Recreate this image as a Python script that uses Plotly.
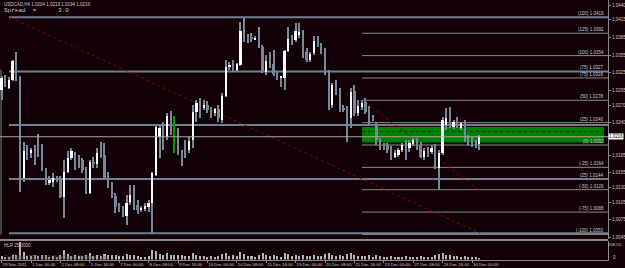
import plotly.graph_objects as go

# ---------------- data ----------------
bar_idx = list(range(131))
opens = [1.0296,1.0316,1.0299,1.0313,1.0345,1.0318,1.0146,1.0194,1.0188,1.0194,
         1.0190,1.0188,1.0160,1.0137,1.0139,1.0148,1.0146,1.0114,1.0156,1.0180,
         1.0185,1.0177,1.0177,1.0160,1.0120,1.0173,1.0170,1.0190,1.0185,1.0146,
         1.0134,1.0115,1.0098,1.0095,1.0082,1.0105,1.0119,1.0100,1.0092,1.0093,
         1.0097,1.0103,1.0151,1.0216,1.0231,1.0216,1.0250,1.0226,1.0226,1.0187,
         1.0202,1.0194,1.0211,1.0258,1.0272,1.0265,1.0270,1.0262,1.0256,1.0263,
         1.0245,1.0285,1.0335,1.0340,1.0330,1.0338,1.0398,1.0384,1.0386,1.0382,
         1.0401,1.0369,1.0326,1.0341,1.0340,1.0321,1.0316,1.0316,1.0362,1.0381,
         1.0381,1.0389,1.0391,1.0360,1.0347,1.0358,1.0381,1.0372,1.0360,1.0324,
         1.0270,1.0304,1.0292,1.0265,1.0262,1.0248,1.0294,1.0256,1.0267,1.0275,
         1.0262,1.0248,1.0236,1.0207,1.0202,1.0202,1.0197,1.0182,1.0185,1.0194,
         1.0202,1.0197,1.0204,1.0207,1.0202,1.0182,1.0194,1.0190,1.0197,1.0163,
         1.0188,1.0236,1.0248,1.0233,1.0245,1.0231,1.0239,1.0214,1.0211,1.0207,
         1.0204]
highs = [1.0319,1.0321,1.0318,1.0347,1.0360,1.0319,1.0207,1.0202,1.0197,1.0202,
         1.0221,1.0204,1.0163,1.0149,1.0154,1.0149,1.0149,1.0177,1.0192,1.0197,
         1.0190,1.0185,1.0180,1.0165,1.0177,1.0182,1.0197,1.0207,1.0205,1.0156,
         1.0139,1.0120,1.0103,1.0098,1.0117,1.0134,1.0134,1.0109,1.0098,1.0103,
         1.0109,1.0156,1.0236,1.0236,1.0241,1.0256,1.0260,1.0251,1.0231,1.0194,
         1.0211,1.0216,1.0270,1.0279,1.0282,1.0279,1.0277,1.0267,1.0265,1.0270,
         1.0290,1.0347,1.0343,1.0347,1.0341,1.0411,1.0418,1.0391,1.0392,1.0387,
         1.0403,1.0372,1.0355,1.0360,1.0364,1.0326,1.0319,1.0364,1.0403,1.0389,
         1.0409,1.0409,1.0398,1.0367,1.0360,1.0387,1.0387,1.0375,1.0367,1.0330,
         1.0307,1.0313,1.0299,1.0270,1.0268,1.0299,1.0304,1.0279,1.0279,1.0282,
         1.0268,1.0253,1.0241,1.0214,1.0205,1.0205,1.0200,1.0194,1.0197,1.0205,
         1.0211,1.0211,1.0214,1.0214,1.0207,1.0197,1.0199,1.0202,1.0204,1.0194,
         1.0250,1.0265,1.0267,1.0245,1.0250,1.0241,1.0245,1.0219,1.0216,1.0211,
         1.0219]
lows = [1.0279,1.0301,1.0297,1.0311,1.0311,1.0122,1.0139,1.0177,1.0180,1.0168,
        1.0182,1.0158,1.0134,1.0134,1.0131,1.0139,1.0112,1.0078,1.0154,1.0177,
        1.0160,1.0163,1.0154,1.0119,1.0119,1.0163,1.0163,1.0180,1.0143,1.0129,
        1.0112,1.0086,1.0088,1.0080,1.0066,1.0100,1.0092,1.0085,1.0088,1.0090,
        1.0088,1.0052,1.0149,1.0180,1.0194,1.0211,1.0219,1.0188,1.0185,1.0166,
        1.0180,1.0188,1.0197,1.0241,1.0248,1.0262,1.0256,1.0248,1.0251,1.0241,
        1.0239,1.0284,1.0330,1.0326,1.0326,1.0336,1.0377,1.0375,1.0377,1.0381,
        1.0367,1.0324,1.0321,1.0333,1.0319,1.0313,1.0301,1.0296,1.0360,1.0372,
        1.0377,1.0384,1.0350,1.0343,1.0343,1.0355,1.0369,1.0357,1.0321,1.0262,
        1.0265,1.0287,1.0258,1.0258,1.0207,1.0231,1.0251,1.0251,1.0262,1.0255,
        1.0236,1.0243,1.0202,1.0194,1.0194,1.0188,1.0177,1.0180,1.0182,1.0190,
        1.0177,1.0190,1.0200,1.0194,1.0180,1.0177,1.0182,1.0187,1.0161,1.0126,
        1.0185,1.0228,1.0231,1.0229,1.0231,1.0228,1.0207,1.0200,1.0199,1.0197,
        1.0194]
closes = [1.0316,1.0304,1.0313,1.0345,1.0313,1.0143,1.0192,1.0188,1.0194,1.0171,
          1.0185,1.0160,1.0137,1.0143,1.0146,1.0144,1.0114,1.0156,1.0180,1.0192,
          1.0171,1.0173,1.0160,1.0120,1.0173,1.0170,1.0188,1.0183,1.0146,1.0131,
          1.0114,1.0097,1.0093,1.0082,1.0103,1.0117,1.0100,1.0092,1.0095,1.0098,
          1.0103,1.0154,1.0233,1.0231,1.0214,1.0251,1.0224,1.0226,1.0192,1.0170,
          1.0194,1.0209,1.0258,1.0273,1.0265,1.0270,1.0262,1.0256,1.0263,1.0248,
          1.0285,1.0335,1.0338,1.0330,1.0340,1.0396,1.0381,1.0379,1.0382,1.0384,
          1.0369,1.0326,1.0345,1.0336,1.0323,1.0316,1.0318,1.0362,1.0382,1.0375,
          1.0396,1.0394,1.0353,1.0347,1.0357,1.0379,1.0372,1.0360,1.0324,1.0273,
          1.0304,1.0292,1.0262,1.0262,1.0250,1.0292,1.0256,1.0268,1.0273,1.0258,
          1.0239,1.0245,1.0211,1.0199,1.0197,1.0194,1.0182,1.0188,1.0194,1.0202,
          1.0188,1.0205,1.0211,1.0197,1.0182,1.0192,1.0188,1.0197,1.0165,1.0188,
          1.0245,1.0248,1.0233,1.0241,1.0233,1.0239,1.0211,1.0205,1.0204,1.0202,
          1.0216]
volumes = [40,30,35,60,55,208,90,45,40,50,45,55,50,35,40,30,55,110,70,45,
           50,40,45,60,75,40,50,45,65,50,55,60,40,45,65,50,55,40,30,35,
           45,110,100,70,60,75,60,50,55,60,40,45,85,60,45,40,35,40,35,45,
           65,80,40,50,45,90,70,45,40,35,55,75,60,45,55,40,35,85,65,40,
           55,45,60,45,40,55,40,45,65,75,60,45,55,40,70,75,60,45,40,45,
           55,35,60,45,35,30,40,35,30,35,40,30,25,30,40,35,30,35,60,70,
           85,55,50,40,45,35,40,35,30,25,20]

xtick_bars = [0, 8, 16, 24, 32, 40, 48, 56, 64, 72, 80, 88, 96, 104, 112, 120, 128]
xtick_text = ["29 Nov 2011", "1 Dec 00:00", "2 Dec 08:00", "5 Dec 16:00", "7 Dec 00:00",
              "8 Dec 08:00", "9 Dec 16:00", "13 Dec 00:00", "14 Dec 08:00", "15 Dec 16:00",
              "19 Dec 00:00", "20 Dec 08:00", "21 Dec 16:00", "23 Dec 00:00", "27 Dec 08:00",
              "28 Dec 16:00", "30 Dec 00:00"]
ytick_vals = [1.0440, 1.0415, 1.0385, 1.0355, 1.0325, 1.0295, 1.0270, 1.0240,
              1.0185, 1.0155, 1.0130, 1.0105, 1.0075, 1.0045]

fib1_levels = [125, 100, 75, 50, 25, 0, -25, -50, -75, -100]
fib1_prices = [1.0392, 1.0354, 1.0316, 1.0278, 1.0240, 1.0202, 1.0164, 1.0126, 1.0088, 1.0050]
fib2_levels = [100, 75, 50, 25, 0]
fib2_prices = [1.0419, 1.0327, 1.0236, 1.0144, 1.0052]

symbol = "USDCAD,H4"
spread = 3.0
vol_label = "208.55"

# ---------------- styling ----------------
BG = "#120207"
DOWN = "#778899"
UP = "#ffffff"
DOJI = "#00a000"
GRAY = "#8a8a8a"
TXT = "#c8c8c8"
NARROW = "Liberation Sans Narrow, Liberation Sans, Arial, sans-serif"
SANS = "Liberation Sans, Arial, sans-serif"
W, H = 625, 268
PLOT_R = 608 / W
BPX = 3.675
XMIN = -1.6 / BPX
XMAX = XMIN + 608 / BPX
P0 = 1.04485      # price at top pixel
PPX = 0.00017     # price per pixel
YMIN = P0 - 239 * PPX

fig = go.Figure()

# wicks
wick_col = [DOJI if o == c else DOWN for o, c in zip(opens, closes)]
fig.add_trace(go.Bar(x=bar_idx, y=[h - l for h, l in zip(highs, lows)], base=lows,
                     width=0.3, marker=dict(color=wick_col, line=dict(width=0)),
                     hoverinfo="skip", showlegend=False))
# bodies
body_base, body_h, body_col = [], [], []
for o, c in zip(opens, closes):
    body_base.append(min(o, c))
    if o == c:
        body_h.append(0.00014)
        body_col.append(DOJI)
    else:
        body_h.append(max(abs(c - o), 0.00014))
        body_col.append(UP if c > o else DOWN)
fig.add_trace(go.Bar(x=bar_idx, y=body_h, base=body_base, width=0.62,
                     marker=dict(color=body_col, line=dict(width=0)),
                     hoverinfo="skip", showlegend=False))
# volumes
fig.add_trace(go.Bar(x=bar_idx, y=volumes, width=0.55, yaxis="y2",
                     marker=dict(color="#b4b4b4", line=dict(width=0)),
                     hoverinfo="skip", showlegend=False))

shapes = []
ann = []
# green rectangle
shapes.append(dict(type="rect", xref="x", yref="y", x0=98.1, x1=163.9, y0=1.02062, y1=1.02326,
                   fillcolor="#008000", line=dict(width=0), layer="below"))
shapes.append(dict(type="line", xref="x", yref="y", x0=98.1, x1=163.9, y0=1.0225, y1=1.0225,
                   line=dict(color="#004400", width=1, dash="dot"), layer="below"))
# fib 2 (full width)
for lv, pr in zip(fib2_levels, fib2_prices):
    shapes.append(dict(type="line", xref="x", yref="y", x0=2.0, x1=XMAX, y0=pr, y1=pr,
                       line=dict(color="#708090", width=2), layer="below"))
    if min(abs(pr - q) for q in fib1_prices) > 0.0006:
        ann.append(dict(xref="paper", yref="y", x=606 / W, y=pr, text=f"({lv}) {pr:.4f}",
                        xanchor="right", yanchor="bottom", showarrow=False,
                        font=dict(size=4.5, color=TXT, family=NARROW), yshift=-1))
# fib 1
for lv, pr in zip(fib1_levels, fib1_prices):
    shapes.append(dict(type="line", xref="x", yref="y", x0=98.1, x1=XMAX, y0=pr, y1=pr,
                       line=dict(color=GRAY, width=1), layer="below"))
    ann.append(dict(xref="paper", yref="y", x=606 / W, y=pr, text=f"({lv}) {pr:.4f}",
                    xanchor="right", yanchor="bottom", showarrow=False,
                    font=dict(size=4.5, color=TXT, family=NARROW), yshift=-1))
# red dotted fib trendlines
shapes.append(dict(type="line", xref="x", yref="y", x0=2.3, x1=130.2, y0=fib2_prices[0], y1=fib2_prices[-1],
                   line=dict(color="#8a0000", width=1, dash="dot"), layer="below"))
shapes.append(dict(type="line", xref="x", yref="y", x0=98.1, x1=130.2, y0=1.0279, y1=1.0124,
                   line=dict(color="#8a0000", width=1, dash="dot"), layer="below"))
# vertical line at the left edge
shapes.append(dict(type="line", xref="x", yref="y", x0=-0.15, x1=-0.15, y0=1.0050, y1=1.0330,
                   line=dict(color="#778899", width=1), layer="below"))
# bid line
shapes.append(dict(type="line", xref="x", yref="y", x0=XMIN, x1=XMAX, y0=closes[-1], y1=closes[-1],
                   line=dict(color="#a8a8a8", width=1), layer="above"))
# window separator
shapes.append(dict(type="line", xref="paper", yref="paper", x0=0, x1=PLOT_R,
                   y0=(H - 240) / H, y1=(H - 240) / H, line=dict(color=GRAY, width=2)))

# texts
ann.append(dict(xref="paper", yref="paper", x=2 / W, y=1 - 4.5 / H,
                text=f"{symbol} {opens[-1]:.4f} {highs[-1]:.4f} {lows[-1]:.4f} {closes[-1]:.4f}",
                xanchor="left", yanchor="middle", showarrow=False,
                font=dict(size=4.5, color=TXT, family=SANS)))
ann.append(dict(xref="paper", yref="paper", x=2 / W, y=1 - 10.5 / H,
                text=f"Spread  =      {spread:.1f}", xanchor="left", yanchor="middle", showarrow=False,
                font=dict(size=6, color=TXT, family="Liberation Mono")))
ann.append(dict(xref="paper", yref="y", x=PLOT_R, y=closes[-1], text=f"{closes[-1]:.4f}",
                xanchor="left", yanchor="middle", showarrow=False, bgcolor="#ffffff",
                font=dict(size=4.5, color="#000000", family=SANS), borderpad=0))
ann.append(dict(xref="paper", yref="paper", x=623.5 / W, y=1 - 244 / H, text=vol_label,
                xanchor="right", yanchor="middle", showarrow=False,
                font=dict(size=4.3, color=TXT, family=NARROW)))
ann.append(dict(xref="paper", yref="paper", x=PLOT_R + 3 / W, y=1 - 257.3 / H, text="0",
                xanchor="left", yanchor="middle", showarrow=False,
                font=dict(size=4.5, color=TXT, family=SANS)))
ann.append(dict(xref="paper", yref="paper", x=2 / W, y=1 - 245 / H, text="HLR 25.0000",
                xanchor="left", yanchor="middle", showarrow=False,
                font=dict(size=4.5, color=TXT, family=SANS)))
ann.append(dict(xref="paper", yref="paper", x=2 / W, y=1 - 256.5 / H,
                text="Copyright © 2001-2011, MetaQuotes Software Corp.",
                xanchor="left", yanchor="middle", showarrow=False,
                font=dict(size=4.5, color="#5a5a5a", family=SANS)))

fig.update_layout(
    width=W, height=H, margin=dict(l=0, r=0, t=0, b=0),
    paper_bgcolor=BG, plot_bgcolor=BG, barmode="overlay", bargap=0,
    showlegend=False, shapes=shapes, annotations=ann,
    xaxis=dict(domain=[0, PLOT_R], range=[XMIN, XMAX], anchor="y2",
               tickvals=xtick_bars, ticktext=xtick_text, ticklabelposition="outside right",
               tickangle=0, ticks="outside", ticklen=2, tickcolor=GRAY,
               tickfont=dict(size=4.3, color=TXT, family=NARROW),
               showgrid=False, zeroline=False, showline=True, linecolor=GRAY, linewidth=1),
    yaxis=dict(domain=[(H - 239) / H, 1], range=[YMIN, P0], side="right", anchor="x",
               tickvals=ytick_vals, ticktext=[f"{v:.4f}" for v in ytick_vals],
               ticks="outside", ticklen=2, tickcolor=GRAY,
               tickfont=dict(size=4.5, color=TXT, family=SANS),
               showgrid=False, zeroline=False, showline=True, linecolor=GRAY, linewidth=1),
    yaxis2=dict(domain=[(H - 259.5) / H, (H - 241) / H], range=[0, 225], side="right", anchor="x",
                showticklabels=False, ticks="", showgrid=False, zeroline=False,
                showline=True, linecolor=GRAY, linewidth=1),
)

fig.write_html("out.html")
